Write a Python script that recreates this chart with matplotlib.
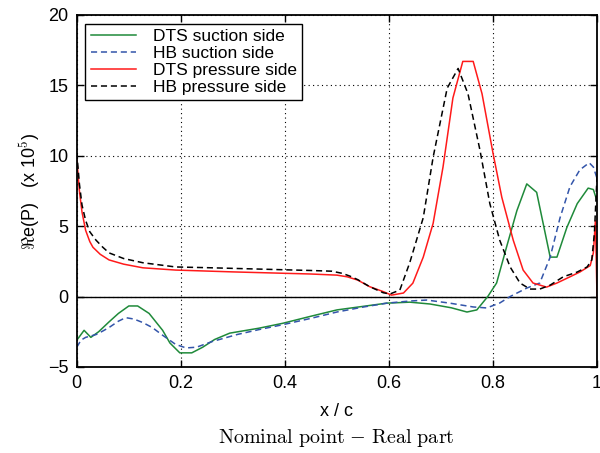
import matplotlib
matplotlib.use("Agg")
import matplotlib.pyplot as plt

plt.rcParams["font.family"] = ["Liberation Sans", "DejaVu Sans"]
plt.rcParams["mathtext.fontset"] = "cm"

# DTS pressure side (red, solid)
dts_p_x = [0.0, 0.005, 0.01, 0.017, 0.025, 0.031, 0.045, 0.062, 0.09, 0.127,
           0.19, 0.3, 0.4, 0.45, 0.5, 0.52, 0.54, 0.563,
           0.589, 0.605, 0.628, 0.646, 0.666, 0.685, 0.704, 0.723, 0.742, 0.762,
           0.779, 0.8, 0.817, 0.839, 0.858, 0.877, 0.903, 0.923, 0.948, 0.967,
           0.987, 0.993, 0.997, 1.0]
dts_p_y = [9.8, 7.5, 6.0, 4.7, 3.9, 3.5, 3.0, 2.6, 2.3, 2.04,
           1.88, 1.75, 1.65, 1.6, 1.52, 1.4, 1.17, 0.7,
           0.35, 0.1, 0.25, 0.95, 2.8, 5.2, 9.2, 14.1, 16.7, 16.7,
           14.4, 10.2, 7.05, 4.0, 1.88, 0.96, 0.67, 0.96, 1.4, 1.74,
           2.2, 3.1, 5.4, 0.0]

# HB pressure side (black, dashed)
hb_p_x = [0.0, 0.005, 0.01, 0.017, 0.025, 0.037, 0.05, 0.062, 0.09, 0.127,
          0.19, 0.25, 0.3, 0.4, 0.45, 0.49, 0.51, 0.525, 0.54, 0.563,
          0.589, 0.602, 0.621, 0.64, 0.666, 0.685, 0.712, 0.733, 0.752, 0.775,
          0.794, 0.813, 0.833, 0.852, 0.871, 0.89, 0.91, 0.935, 0.962, 0.981,
          0.99, 0.995, 1.0]
hb_p_y = [10.2, 8.0, 6.5, 5.4, 4.6, 4.0, 3.5, 3.1, 2.7, 2.4,
          2.1, 2.05, 2.0, 1.9, 1.85, 1.8, 1.65, 1.45, 1.2, 0.7,
          0.27, 0.18, 0.46, 2.4, 5.6, 9.9, 14.8, 16.2, 14.4, 10.4,
          6.6, 4.0, 2.1, 0.96, 0.53, 0.53, 0.81, 1.4, 1.74, 2.1,
          2.6, 4.5, 8.5]

# DTS suction side (green, solid)
dts_s_x = [0.0, 0.014, 0.027, 0.042, 0.062, 0.08, 0.1, 0.117, 0.139, 0.165,
           0.179, 0.198, 0.221, 0.242, 0.265, 0.294, 0.35, 0.396, 0.45, 0.5,
           0.55, 0.596, 0.64, 0.679, 0.72, 0.75,
           0.769, 0.79, 0.807, 0.826, 0.846, 0.865, 0.884, 0.91, 0.923, 0.942,
           0.962, 0.983, 0.993, 1.0]
dts_s_y = [-3.1, -2.4, -2.9, -2.5, -1.8, -1.2, -0.67, -0.67, -1.2, -2.4,
           -3.3, -4.0, -4.0, -3.6, -3.05, -2.6, -2.25, -1.9, -1.4, -0.95,
           -0.7, -0.47, -0.4, -0.53, -0.8, -1.1,
           -0.95, 0.0, 0.96, 3.5, 6.1, 8.0, 7.4, 2.8, 2.8, 4.9,
           6.6, 7.7, 7.6, 6.8]

# HB suction side (blue, dashed)
hb_s_x = [0.0, 0.008, 0.017, 0.037, 0.05, 0.062, 0.08, 0.094, 0.11, 0.127,
          0.145, 0.165, 0.19, 0.21, 0.23, 0.26, 0.308, 0.35, 0.396, 0.45,
          0.5, 0.55, 0.596, 0.64, 0.673, 0.717, 0.762, 0.788, 0.813,
          0.833, 0.865, 0.89, 0.91, 0.929, 0.948, 0.967, 0.985, 0.993, 1.0]
hb_s_y = [-3.6, -3.1, -2.9, -2.7, -2.45, -2.2, -1.75, -1.5, -1.6, -1.85,
          -2.2, -2.75, -3.4, -3.65, -3.6, -3.2, -2.7, -2.35, -2.0, -1.55,
          -1.1, -0.75, -0.47, -0.32, -0.25, -0.47, -0.74, -0.81, -0.46,
          0.0, 0.6, 0.96, 2.8, 5.6, 7.8, 9.0, 9.5, 9.2, 8.4]

xticks = [0, 0.2, 0.4, 0.6, 0.8, 1]
xticklabels = ["0", "0.2", "0.4", "0.6", "0.8", "1"]
yticks = [-5, 0, 5, 10, 15, 20]

fig = plt.figure(figsize=(6.0, 4.53), dpi=100)
ax = fig.add_axes([0.128, 0.19, 0.867, 0.777])

ax.plot(dts_s_x, dts_s_y, color="#1f8a3a", lw=1.1, label="DTS suction side")
ax.plot(hb_s_x, hb_s_y, color="#3355aa", lw=1.1, ls=(0, (4, 2.5)), label="HB suction side")
ax.plot(dts_p_x, dts_p_y, color="#ff1a1a", lw=1.1, label="DTS pressure side")
ax.plot(hb_p_x, hb_p_y, color="black", lw=1.1, ls=(0, (4, 2.5)), label="HB pressure side")

ax.axhline(0, color="black", lw=1.0, zorder=1)
ax.set_xlim(0, 1)
ax.set_ylim(-5, 20)
ax.set_xticks(xticks)
ax.set_xticklabels(xticklabels)
ax.set_yticks(yticks)
ax.grid(True, color="black", ls=(0, (1, 3)), lw=0.8)
ax.tick_params(direction="in", top=True, right=True, length=5, width=1, labelsize=13, pad=6)
for s in ax.spines.values():
    s.set_linewidth(1.3)

ax.set_xlabel("x / c", fontsize=13, labelpad=8)
ax.set_ylabel(r"$\Re$e(P)   (x 10$^5$)", fontsize=13, labelpad=4)

leg = ax.legend(loc="upper left", fontsize=12.5, frameon=True, fancybox=False,
                edgecolor="black", framealpha=1, borderpad=0.3, labelspacing=0.1,
                handlelength=2.6, handletextpad=1.0, borderaxespad=0.5)
leg.get_frame().set_linewidth(1.0)

fig.text(0.5 + 0.128 / 2 - 0.003, 0.022, r"$\mathrm{Nominal\ point\ {-}\ Real\ part}$",
         ha="center", va="baseline", fontsize=14.5)

fig.savefig("out.png", dpi=100)
